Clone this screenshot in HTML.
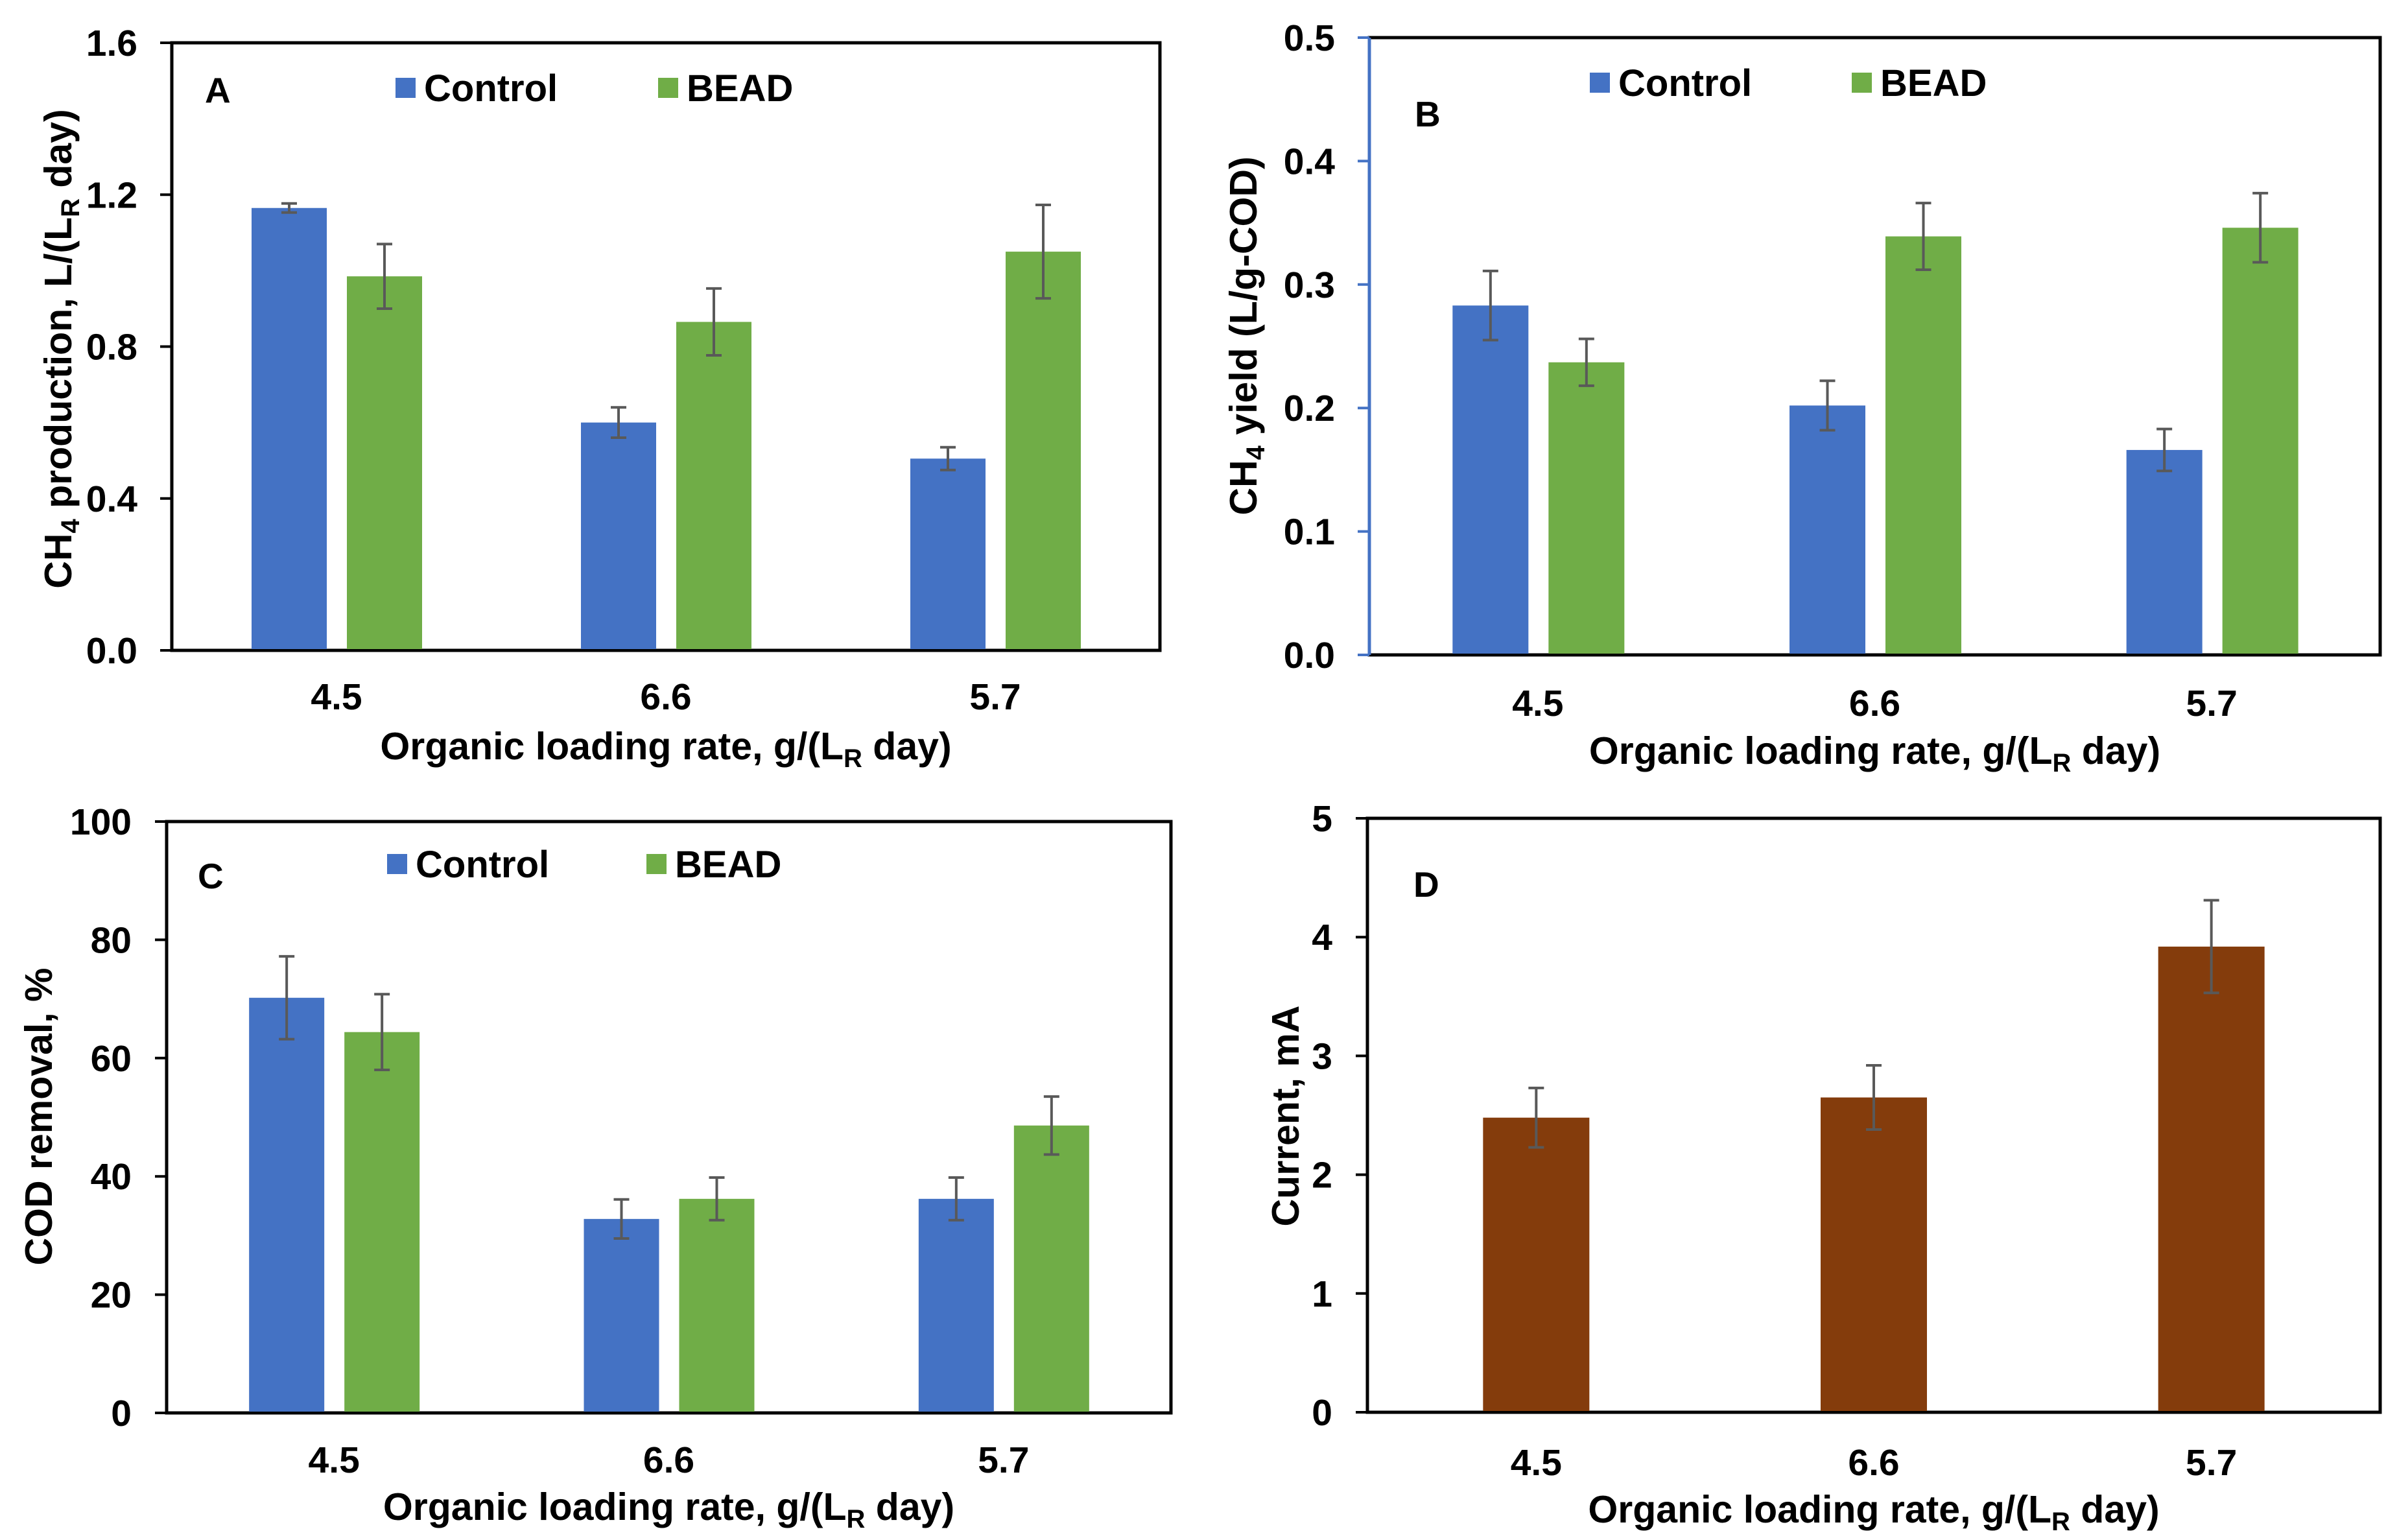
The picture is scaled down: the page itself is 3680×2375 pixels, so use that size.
<!DOCTYPE html>
<html><head><meta charset="utf-8"><style>
html,body{margin:0;padding:0;background:#fff;}
svg{display:block;font-family:"Liberation Sans",Arial,sans-serif;font-weight:bold;}
</style></head><body>
<svg id="fig" width="3680" height="2375" viewBox="0 0 3680 2375" xmlns="http://www.w3.org/2000/svg"></svg>
<script>
const categories = ["4.5","6.6","5.7"];
const aControl = [1.165,0.60,0.505];
const aControlErr = [0.012,0.04,0.03];
const aBead = [0.985,0.865,1.05];
const aBeadErr = [0.085,0.088,0.123];
const aTicks = ["0.0","0.4","0.8","1.2","1.6"];
const bControl = [0.283,0.202,0.166];
const bControlErr = [0.028,0.02,0.017];
const bBead = [0.237,0.339,0.346];
const bBeadErr = [0.019,0.027,0.028];
const bTicks = ["0.0","0.1","0.2","0.3","0.4","0.5"];
const cControl = [70.2,32.8,36.2];
const cControlErr = [7,3.3,3.6];
const cBead = [64.4,36.2,48.6];
const cBeadErr = [6.4,3.6,4.9];
const cTicks = ["0","20","40","60","80","100"];
const dCurrent = [2.48,2.65,3.92];
const dCurrentErr = [0.25,0.27,0.39];
const dTicks = ["0","1","2","3","4","5"];

const NS="http://www.w3.org/2000/svg";
const svg=document.getElementById('fig');
function mk(tag,attrs,parent){const e=document.createElementNS(NS,tag);for(const k in attrs)e.setAttribute(k,attrs[k]);(parent||svg).appendChild(e);return e;}

function panel(p){
  const g=mk('g',{});
  
  
  const ticks=p.ticks.map(Number);const max=ticks[ticks.length-1];
  const y=v=>p.bottom-(v/max)*(p.bottom-p.top);
  const cw=(p.right-p.left)/categories.length;
  const xc=i=>p.left+cw*(i+0.5);
  const fr=mk('rect',{x:p.left,y:p.top,width:p.right-p.left,height:p.bottom-p.top,fill:'none',stroke:'#000','stroke-width':5},g);
  
  
  if(p.blueAxis){const l=mk('line',{x1:p.left,y1:p.top,x2:p.left,y2:p.bottom,stroke:'#4472C4','stroke-width':5},g);
    
    }
  ticks.forEach((t,i)=>{
    mk('line',{x1:p.left-18,y1:y(t),x2:p.left,y2:y(t),stroke:p.blueAxis?'#4472C4':'#000','stroke-width':4},g);
    const tx=mk('text',{x:p.tickRight,y:y(t)+20,'text-anchor':'end','font-size':57},g);
    tx.textContent=p.ticks[i];
    
    
  });
  p.series.forEach(s=>{
    s.vals.forEach((v,i)=>{
      const cx=xc(i)+s.off;
      const r=mk('rect',{x:cx-s.w/2,y:y(v),width:s.w,height:p.bottom-y(v)-2,fill:s.color},g);
      
      
      const e=s.err[i];
      const eg=mk('g',{stroke:'#595959','stroke-width':4},g);
      
      
      mk('line',{x1:cx,y1:y(v+e),x2:cx,y2:y(v-e)},eg);
      mk('line',{x1:cx-12,y1:y(v+e),x2:cx+12,y2:y(v+e)},eg);
      mk('line',{x1:cx-12,y1:y(v-e),x2:cx+12,y2:y(v-e)},eg);
    });
  });
  categories.forEach((c,i)=>{
    const t=mk('text',{x:xc(i),y:p.xTickY+20,'text-anchor':'middle','font-size':57},g);
    t.textContent=c;
    
    
  });
  const xt=mk('text',{x:(p.left+p.right)/2,y:p.xTitleY+21,'text-anchor':'middle','font-size':59},g);
  xt.innerHTML='Organic loading rate, g/(L<tspan font-size="40" dy="12">R</tspan><tspan dy="-12"> day)</tspan>';
  
  
  const yt=mk('text',{x:0,y:0,'text-anchor':'middle','font-size':59,transform:`translate(${p.yTitleX+21},${p.yTitleY}) rotate(-90)`},g);
  yt.innerHTML=p.yTitle;
  
  
  const lab=mk('text',{x:p.labelX,y:p.labelY+20,'font-size':55},g);
  lab.textContent=p.id;
  
  
  if(p.legend){
    p.series.forEach((s,k)=>{
      const lg=mk('g',{},g);
      
      
      mk('rect',{x:p.legend[k],y:p.legendY-15,width:31,height:31,fill:s.color},lg);
      const t=mk('text',{x:p.legend[k]+44,y:p.legendY+21,'font-size':58},lg);
      t.textContent=s.label;
    });
  }
}
const BL='#4472C4',GR='#70AD47',BR='#843C0C';
panel({id:'A',left:265,right:1789,top:66,bottom:1003,ticks:aTicks,tickRight:212,xTickY:1074,xTitleY:1150,
  yTitleX:89,yTitleY:538,labelX:316,labelY:138,legend:[610,1015],legendY:135,
  yTitle:'CH<tspan font-size="40" dy="12">4</tspan><tspan dy="-12"> production, L/(L</tspan><tspan font-size="40" dy="12">R</tspan><tspan dy="-12"> day)</tspan>',
  series:[{name:'control',label:'Control',vals:aControl,err:aControlErr,color:BL,off:-73,w:116},
          {name:'bead',label:'BEAD',vals:aBead,err:aBeadErr,color:GR,off:74,w:116}]});
panel({id:'B',left:2112,right:3671,top:58,bottom:1010,ticks:bTicks,tickRight:2059,xTickY:1084,xTitleY:1157,blueAxis:true,
  yTitleX:1917,yTitleY:518,labelX:2182,labelY:175,legend:[2452,2856],legendY:127,
  yTitle:'CH<tspan font-size="40" dy="12">4</tspan><tspan dy="-12"> yield (L/g-COD)</tspan>',
  series:[{name:'control',label:'Control',vals:bControl,err:bControlErr,color:BL,off:-73,w:117},
          {name:'bead',label:'BEAD',vals:bBead,err:bBeadErr,color:GR,off:75,w:117}]});
panel({id:'C',left:257,right:1806,top:1267,bottom:2179,ticks:cTicks,tickRight:203,xTickY:2251,xTitleY:2323,
  yTitleX:59,yTitleY:1722,labelX:305,labelY:1350,legend:[597,997],legendY:1332,
  yTitle:'COD removal, %',
  series:[{name:'control',label:'Control',vals:cControl,err:cControlErr,color:BL,off:-73,w:116},
          {name:'bead',label:'BEAD',vals:cBead,err:cBeadErr,color:GR,off:74,w:116}]});
panel({id:'D',left:2109,right:3671,top:1262,bottom:2178,ticks:dTicks,tickRight:2055,xTickY:2255,xTitleY:2327,
  yTitleX:1982,yTitleY:1721,labelX:2180,labelY:1363,legend:null,legendY:0,
  yTitle:'Current, mA',
  series:[{name:'current',label:'Current',vals:dCurrent,err:dCurrentErr,color:BR,off:0,w:164}]});
</script>
</body></html>
